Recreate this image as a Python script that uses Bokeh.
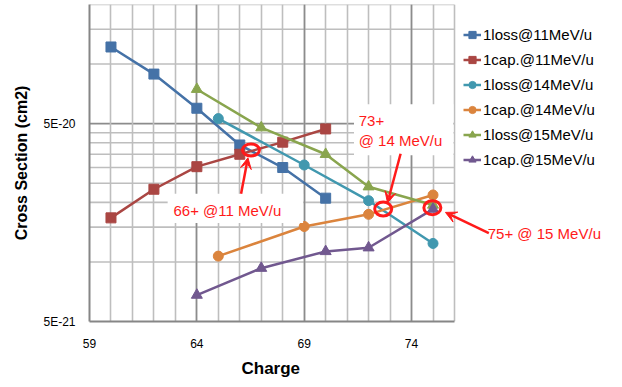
from bokeh.plotting import figure
from bokeh.models import (FixedTicker, CustomJSTickFormatter, Legend, LegendItem,
                          Label, Arrow, VeeHead, BoxAnnotation, Range1d, Title)
from bokeh.embed import file_html
from bokeh.resources import INLINE

# ---- data ----
x11 = [60, 62, 64, 66, 68, 70]
loss11 = [1.22e-19, 8.9e-20, 5.98e-20, 3.9e-20, 3.0e-20, 2.1e-20]
cap11 = [1.67e-20, 2.33e-20, 3.03e-20, 3.5e-20, 4.03e-20, 4.7e-20]
x14 = [65, 69, 72, 75]
loss14 = [5.3e-20, 3.09e-20, 2.04e-20, 1.24e-20]
cap14 = [1.07e-20, 1.51e-20, 1.74e-20, 2.18e-20]
x15 = [64, 67, 70, 72, 75]
loss15 = [7.46e-20, 4.77e-20, 3.5e-20, 2.4e-20, 1.94e-20]
cap15 = [6.8e-21, 9.3e-21, 1.13e-20, 1.18e-20, 1.85e-20]

series_names = ["1loss@11MeV/u", "1cap.@11MeV/u", "1loss@14MeV/u",
                "1cap.@14MeV/u", "1loss@15MeV/u", "1cap.@15MeV/u"]
x_min, x_max = 59, 76
y_min, y_max = 5e-21, 2e-19
x_ticks = [59, 64, 69, 74]
x_minor = list(range(59, 77))
y_ticks = [5e-21, 5e-20]
y_major_grid = [5e-20]
y_minor = [1e-20, 1.5e-20, 2e-20, 2.5e-20, 3e-20, 3.5e-20, 4e-20, 4.5e-20,
           1e-19, 1.5e-19, 2e-19]

# annotations (circle centres, arrows, texts)
circ_x = [66.52, 72.68, 74.97]
circ_y = [3.68e-20, 1.85e-20, 1.88e-20]
circ_w = [17, 17, 17]
circ_h = [12, 14, 14]

FONT = "Liberation Sans"
RED = "#FF1A1A"

# frame extends to the right so that the outside annotations are not clipped
x_view_max = 83.36

p = figure(width=620, height=387, output_backend="svg", toolbar_location=None,
           y_axis_type="log", x_range=Range1d(x_min, x_view_max), y_range=Range1d(y_min, y_max),
           min_border_left=89, min_border_right=8, min_border_top=4, min_border_bottom=66)
p.background_fill_color = "white"
p.outline_line_color = None

xt = FixedTicker(ticks=x_ticks, minor_ticks=x_minor)
yt = FixedTicker(ticks=y_ticks, minor_ticks=y_minor)
p.xaxis[0].ticker = xt
p.xgrid[0].ticker = xt
p.yaxis[0].ticker = yt
p.ygrid[0].visible = False
p.yaxis[0].formatter = CustomJSTickFormatter(code="return tick.toExponential(0).toUpperCase();")
p.xaxis[0].bounds = (x_min, x_max)

g = p.xgrid[0]
g.grid_line_color = "#8C8C8C"
g.grid_line_width = 1.6
g.minor_grid_line_color = "#BEBEBE"
g.minor_grid_line_width = 1.6

# horizontal grid lines limited to the plotted x span
p.segment(x0=[x_min] * len(y_minor), x1=[x_max] * len(y_minor), y0=y_minor, y1=y_minor,
          line_color="#BEBEBE", line_width=1.6, level="underlay")
p.segment(x0=[x_min] * len(y_major_grid), x1=[x_max] * len(y_major_grid),
          y0=y_major_grid, y1=y_major_grid,
          line_color="#8C8C8C", line_width=1.6, level="underlay")

for ax in (p.xaxis[0], p.yaxis[0]):
    ax.axis_line_color = "#868686"
    ax.axis_line_width = 2
    ax.major_tick_line_color = None
    ax.minor_tick_line_color = None
    ax.major_tick_out = 0
    ax.minor_tick_out = 0
    ax.major_label_text_font = FONT
    ax.major_label_text_font_size = "12px"
    ax.major_label_text_color = "#000000"
    ax.axis_label_text_font = FONT
    ax.axis_label_text_font_style = "bold"
    ax.axis_label_text_color = "#000000"

p.xaxis[0].major_label_standoff = 17
p.yaxis[0].axis_label = "Cross Section (cm2)"
p.yaxis[0].axis_label_text_font_size = "16px"
p.yaxis[0].major_label_standoff = 14
p.yaxis[0].axis_label_standoff = 10

# x axis title, centred under the plotted span (59..76)
p.add_layout(Title(text="Charge", align="left", offset=152, text_font=FONT,
                   text_font_size="17px", text_font_style="bold", text_color="#000000",
                   standoff=13), "below")

colors = ["#4572A7", "#AA4643", "#4198AF", "#DB843D", "#89A54E", "#71588F"]
markers = ["square", "square", "circle", "circle", "triangle", "triangle"]
sizes = [10, 10, 10, 10, 11, 11]
xs = [x11, x11, x14, x14, x15, x15]
ys = [loss11, cap11, loss14, cap14, loss15, cap15]

items = []
for name, c, m, s, xv, yv in zip(series_names, colors, markers, sizes, xs, ys):
    r1 = p.line(xv, yv, line_color=c, line_width=2.5)
    r2 = p.scatter(xv, yv, marker=m, size=s, fill_color=c, line_color=c)
    items.append(LegendItem(label=name, renderers=[r1, r2]))

legend = Legend(items=items, location=(374, 151), glyph_width=18, glyph_height=21,
                label_height=21, spacing=4, padding=0, margin=0, label_standoff=2,
                label_text_font=FONT, label_text_font_size="15px",
                label_text_color="#000000", border_line_color=None,
                background_fill_alpha=0)
p.add_layout(legend, "center")

# white boxes behind texts
p.add_layout(BoxAnnotation(left=62.64, right=68.95, bottom=1.575e-20, top=2.21e-20,
                           fill_color="white", fill_alpha=1, line_color=None))
p.add_layout(BoxAnnotation(left=71.32, right=75.95, bottom=3.46e-20, top=6.27e-20,
                           fill_color="white", fill_alpha=1, line_color=None))

# circles
p.ellipse(circ_x, circ_y, width=circ_w, height=circ_h, width_units="screen",
          height_units="screen", fill_color=None, line_color=RED, line_width=3)

# arrows
arrows = [(66.06, 2.21e-20, 66.38, 3.36e-20),
          (73.49, 3.52e-20, 72.88, 1.99e-20),
          (77.6, 1.4e-20, 75.58, 1.78e-20)]
for xs0, ys0, xe, ye in arrows:
    p.add_layout(Arrow(end=VeeHead(size=11, fill_color=RED, line_color=RED, line_width=1),
                       x_start=xs0, y_start=ys0, x_end=xe, y_end=ye,
                       line_color=RED, line_width=2.5))

texts = [("66+ @11 MeV/u", 62.91, 1.826e-20),
         ("73+", 71.54, 5.16e-20),
         ("@ 14 MeV/u", 71.54, 4.09e-20),
         ("75+ @ 15 MeV/u", 77.55, 1.39e-20)]
for t, tx, ty in texts:
    p.add_layout(Label(x=tx, y=ty, text=t, text_font=FONT, text_font_size="15px",
                       text_color=RED, text_align="left", text_baseline="middle"))

open("out.html", "w").write(file_html(p, INLINE))
